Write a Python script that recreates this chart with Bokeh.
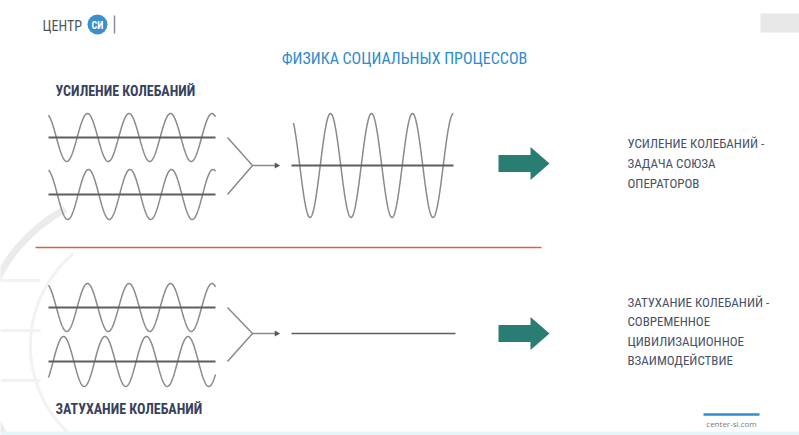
import numpy as np
from bokeh.plotting import figure
from bokeh.models import Range1d
from bokeh.core.properties import value
from bokeh.embed import file_html
from bokeh.resources import INLINE

# ---------------- data ----------------
title_text = "ФИЗИКА СОЦИАЛЬНЫХ ПРОЦЕССОВ"
logo_text = "ЦЕНТР"
logo_badge = "СИ"
label_top = "УСИЛЕНИЕ КОЛЕБАНИЙ"
label_bottom = "ЗАТУХАНИЕ КОЛЕБАНИЙ"
desc_top = ["УСИЛЕНИЕ КОЛЕБАНИЙ -", "ЗАДАЧА СОЮЗА", "ОПЕРАТОРОВ"]
desc_bottom = ["ЗАТУХАНИЕ КОЛЕБАНИЙ -", "СОВРЕМЕННОЕ", "ЦИВИЛИЗАЦИОННОЕ", "ВЗАИМОДЕЙСТВИЕ"]
site_text = "center-si.com"

# waves: baseline, amplitude, first-peak position, period, start, end
wave_base = [137, 194, 165, 307, 361]
wave_amp = [24, 25, 52, 24, 25]
wave_peak = [87, 88, 330, 87, 63]
wave_period = [41.5, 41.5, 41.0, 41.5, 41.5]
wave_x0 = [48, 48, 293, 48, 48]
wave_x1 = [215, 215, 453, 215, 215]
# flat (damped) result line
flat_base = 333
flat_x = [291, 455]

# --------------- figure ----------------
W, H = 799, 435
p = figure(width=W, height=H, x_range=Range1d(0, W), y_range=Range1d(H, 0),
           output_backend="svg", toolbar_location=None, min_border=0)
p.axis.visible = False
p.grid.visible = False
p.outline_line_color = None
p.background_fill_color = "white"
p.border_fill_color = "white"

FONT = value("'Roboto Condensed', 'DejaVu Sans Condensed', 'Liberation Sans Narrow', Roboto")

# faint globe watermark on the left
t = np.linspace(np.radians(118), np.radians(215), 120)
p.line(140 + 160 * np.cos(t), 350 - 160 * np.sin(t), line_color="#ebebeb", line_width=7)
t2 = np.linspace(np.radians(130), np.radians(230), 120)
p.line(150 + 120 * np.cos(t2), 345 - 120 * np.sin(t2), line_color="#f2f2f2", line_width=3)
for yy in [280, 330, 380]:
    p.line([0, 40], [yy, yy], line_color="#f2f2f2", line_width=3)

# bottom light strip
p.quad(left=0, right=W, top=431, bottom=435, fill_color="#e6f5f8", line_color=None)

# top-right gray tab
p.quad(left=760, right=800, top=13, bottom=32, fill_color="#e8e8e8", line_color=None)

# logo
p.text(x=[42], y=[25], text=[logo_text], text_font=FONT, text_font_size="14px",
       text_color="#4f5661", text_baseline="middle", text_align="left")
p.scatter(x=[97], y=[24], size=20, marker="circle", fill_color="#3d8fcc", line_color=None)
p.text(x=[97], y=[24.5], text=[logo_badge], text_font=FONT, text_font_size="10px",
       text_font_style="bold", text_color="white", text_baseline="middle", text_align="center")
p.line([114, 114], [15, 33], line_color="#8a9098", line_width=1.5)

# title
p.text(x=[404], y=[58], text=[title_text], text_font=FONT, text_font_size="16px",
       text_color="#2b8ccc", text_baseline="middle", text_align="center")

# left labels
p.text(x=[55], y=[90], text=[label_top], text_font=FONT, text_font_size="14px",
       text_font_style="bold", text_color="#37425e", text_baseline="middle", text_align="left")
p.text(x=[55], y=[408], text=[label_bottom], text_font=FONT, text_font_size="14px",
       text_font_style="bold", text_color="#37425e", text_baseline="middle", text_align="left")

# waves and their axes
for b, a, pk, per, x0, x1 in zip(wave_base, wave_amp, wave_peak, wave_period, wave_x0, wave_x1):
    xs = np.linspace(x0, x1, 400)
    ys = b - a * np.cos(2 * np.pi * (xs - pk) / per)
    p.line(xs, ys, line_color="#8a8a8a", line_width=1.5)
for i in [0, 1, 3, 4]:
    p.line([48, 215], [wave_base[i], wave_base[i]], line_color="#5e5e5e", line_width=2)
p.line([291, 453], [wave_base[2], wave_base[2]], line_color="#5e5e5e", line_width=2)
p.line(flat_x, [flat_base, flat_base], line_color="#5e5e5e", line_width=1.6)

# Y-shaped connectors
for (ya, yb, yc) in [(wave_base[0], wave_base[2], wave_base[1]),
                     (wave_base[3], flat_base, wave_base[4])]:
    p.line([227, 252, 227], [ya, yb, yc], line_color="#8a8a8a", line_width=1.5)
    p.line([252, 275], [yb, yb], line_color="#8a8a8a", line_width=1.5)
    p.scatter(x=[276], y=[yb], marker="triangle", angle=-np.pi / 2, size=6,
              fill_color="#555555", line_color=None)

# red divider
p.line([35, 541], [247, 247], line_color="#e0603c", line_width=1.5)

# teal arrows
for cy in [163, 333]:
    ax = [498, 530, 530, 549, 530, 530, 498]
    ay = [cy - 8.5, cy - 8.5, cy - 16.5, cy, cy + 16.5, cy + 8.5, cy + 8.5]
    p.patch(ax, ay, fill_color="#2a7d72", line_color=None)

# right descriptions
for txt, yy in zip(desc_top, [143, 163, 183]):
    p.text(x=[627], y=[yy], text=[txt], text_font=FONT, text_font_size="13px",
           text_color="#475169", text_baseline="middle", text_align="left")
for txt, yy in zip(desc_bottom, [302, 321, 341, 360]):
    p.text(x=[627], y=[yy], text=[txt], text_font=FONT, text_font_size="13px",
           text_color="#475169", text_baseline="middle", text_align="left")

# site footer
p.line([703, 759], [414, 414], line_color="#2e8fd0", line_width=2.5)
p.text(x=[731], y=[423], text=[site_text], text_font=value("Open Sans"), text_font_size="8px",
       text_color="#7a7a7a", text_baseline="middle", text_align="center")

open("out.html", "w").write(file_html(p, INLINE))
